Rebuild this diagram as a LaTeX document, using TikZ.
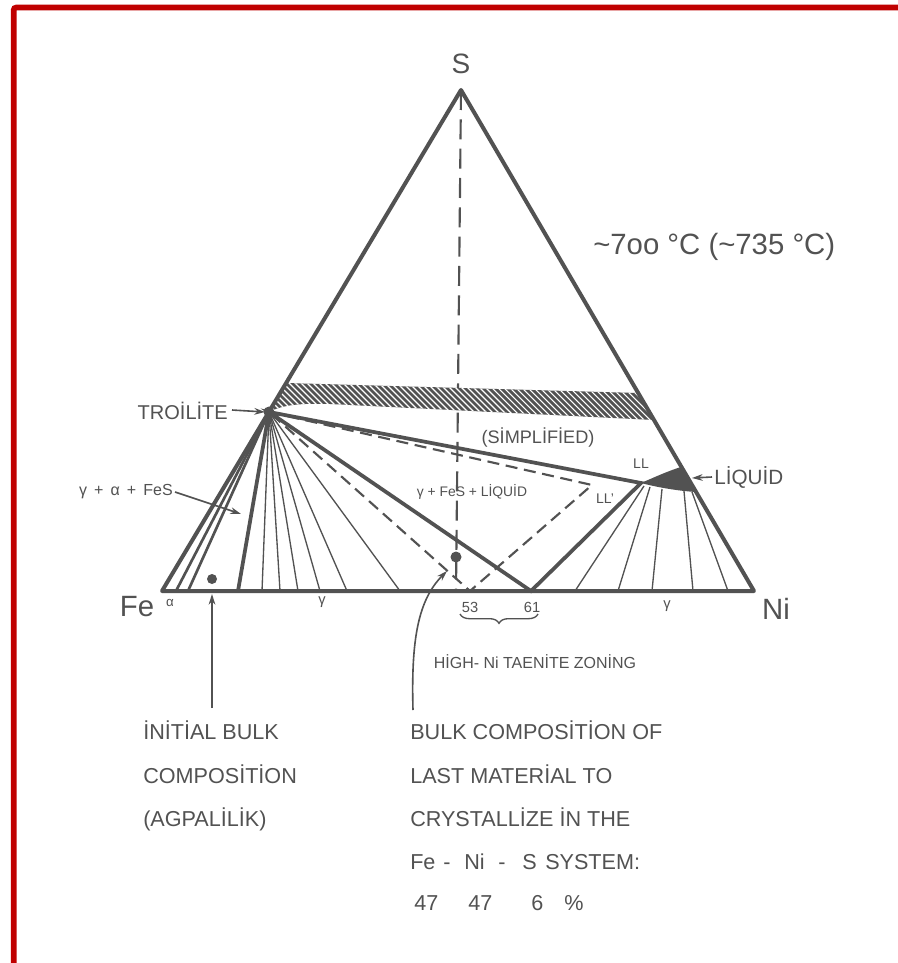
\documentclass[tikz,border=0pt]{standalone}
\usepackage{fontspec}
\setmainfont{Liberation Sans}
\usetikzlibrary{arrows.meta,decorations.pathreplacing}
\definecolor{ink}{RGB}{82,82,82}
\definecolor{frame}{RGB}{192,0,0}
\newcommand\fsz[1]{\fontsize{#1}{#1}\selectfont}
\begin{document}
\begin{tikzpicture}[x=0.75pt,y=-0.75pt,
  edgeln/.style={draw=ink,line width=3pt,line join=round,line cap=round},
  thickln/.style={draw=ink,line width=2.8pt,line cap=round},
  medln/.style={draw=ink,line width=2pt},
  thinln/.style={draw=ink,line width=1pt},
  dashln/.style={draw=ink,line width=1.6pt,dash pattern=on 9pt off 5pt},
  vdash/.style={draw=ink,line width=1.6pt,dash pattern=on 15pt off 7pt},
  lbl/.style={text=ink,inner sep=0pt},
  btxt/.style={lbl,font=\fsz{16.2},anchor=base west},
  arr/.style={draw=ink,line width=1.2pt,-{Stealth[length=8pt,width=5pt]}},
]
\useasboundingbox (0,0) rectangle (898,963);
\fill[white] (0,0) rectangle (898,963);
\draw[frame,line width=4.3pt,rounded corners=2pt] (13.7,963) -- (13.7,7.5) -- (898,7.5);

% corners and key points
\coordinate (S) at (461,90);
\coordinate (Fe) at (162,591);
\coordinate (Ni) at (754,591);
\coordinate (T) at (269,412);
\coordinate (LL) at (641,483);
\coordinate (LLp) at (592,485);
\coordinate (V) at (470,591);
\coordinate (P61) at (531,591);
\coordinate (Sb) at (456,591);

% vertical dashed line
\draw[vdash] (S) -- (Sb);

% hatched band
\begin{scope}
  \clip (286,383) -- (638,393) -- (654,420) -- (330,404) .. controls (300,403) and (282,405) .. (T) -- cycle;
  \fill[ink] (250,370) rectangle (670,430);
  \foreach \i in {0,...,75}
    \draw[white,line width=0.8pt] (215+\i*6,375) -- ++(50,50);
\end{scope}

% left fan
\draw[medln] (T) -- (176,591);
\draw[medln] (T) -- (188,591);
\draw[thickln] (T) -- (238,591);
\foreach \xb in {262,280,298,320,347,400}
  \draw[thinln] (T) -- (\xb,591);

% dashed tie triangle
\draw[dashln] (T) -- (LLp) -- (V) -- cycle;

% thick three-phase triangle
\draw[thickln] (T) -- (LL) -- (P61) -- cycle;

% liquid blob
\fill[ink] (LL) .. controls (655,477) and (668,471) .. (681,467) -- (696,492)
  .. controls (680,491) and (660,488) .. (LL) -- cycle;

% right fan
\draw[thinln] (644,486) -- (575,591);
\draw[thinln] (650,487) -- (618,591);
\draw[thinln] (662,489) -- (652,591);
\draw[thinln] (684,491) -- (693,591);
\draw[thinln] (692,492) -- (728,591);

% main triangle
\draw[edgeln] (S) -- (Fe) -- (Ni) -- cycle;

% dots
\fill[ink] (T) circle (5.5);
\fill[ink] (212,579) circle (5);
\fill[ink] (456,557) circle (5.5);

% arrows
\draw[arr] (212,708) -- (212,594);
\draw[arr] (413,710) .. controls (411,640) and (418,600) .. (447,571);
\draw[arr] (232,410) -- (265,412);
\draw[arr] (712,477) -- (692,478);
\draw[arr] (175,492) -- (241,514);

% brace
\draw[ink,line width=1pt,decorate,decoration={brace,mirror,amplitude=7pt}] (460,614) -- (538,614);

% labels
\node[lbl,font=\fsz{21}] (lS) at (461,64) {S};
\node[lbl,font=\fsz{22},anchor=west] (ltemp) at (593,247) {\textasciitilde 7oo °C (\textasciitilde 735 °C)};
\node[lbl,font=\fsz{22}] (lFe) at (137,607) {Fe};
\node[lbl,font=\fsz{22}] (lNi) at (776,609) {Ni};
\node[lbl,font=\fsz{10}] (lal) at (170,603) {α};
\node[lbl,font=\fsz{11}] (lg1) at (322,602) {γ};
\node[lbl,font=\fsz{11}] (lg2) at (667,606) {γ};
\node[lbl,font=\fsz{11}] (l53) at (470,607) {53};
\node[lbl,font=\fsz{11}] (l61) at (532,607) {61};
\node[lbl,font=\fsz{12}] (lhigh) at (535,662) {HİGH- Ni TAENİTE ZONİNG};
\node[lbl,font=\fsz{15},anchor=east] (ltro) at (228,411) {TROİLİTE};
\node[lbl,font=\fsz{12},anchor=east] (lgaf) at (173,492) {γ\,\ +\ \,α\,\ +\ \,FeS};
\node[lbl,font=\fsz{13.6}] (lsimp) at (538,438) {(SİMPLİFİED)};
\node[lbl,font=\fsz{10.4}] (lgfl) at (472,492) {γ + FeS + LİQUİD};
\node[lbl,font=\fsz{10.5}] (lLL) at (641,464) {LL};
\node[lbl,font=\fsz{10.5}] (lLLp) at (605,499) {LL'};
\node[lbl,font=\fsz{15.5},anchor=west] (lliq) at (714,477) {LİQUİD};

% bottom texts
\node[btxt] (i1) at (143,739) {İNİTİAL BULK};
\node[btxt] (i2) at (143,783) {COMPOSİTİON};
\node[btxt] (i3) at (143,826) {(AGPALİLİK)};
\node[btxt] (b1) at (410,739) {BULK COMPOSİTİON OF};
\node[btxt] (b2) at (410,783) {LAST MATERİAL TO};
\node[btxt] (b3) at (410,826) {CRYSTALLİZE İN THE};
\node[btxt] (b4a) at (410,869) {Fe};
\node[btxt] (b4b) at (443,869) {-};
\node[btxt] (b4c) at (464,869) {Ni};
\node[btxt] (b4d) at (498,869) {-};
\node[btxt] (b4e) at (522,869) {S};
\node[btxt] (b4f) at (545,869) {SYSTEM:};
\node[btxt] (b5a) at (414,910) {47};
\node[btxt] (b5b) at (468,910) {47};
\node[btxt] (b5c) at (531,910) {6};
\node[btxt] (b5d) at (564,910) {\%};
\end{tikzpicture}
\end{document}
